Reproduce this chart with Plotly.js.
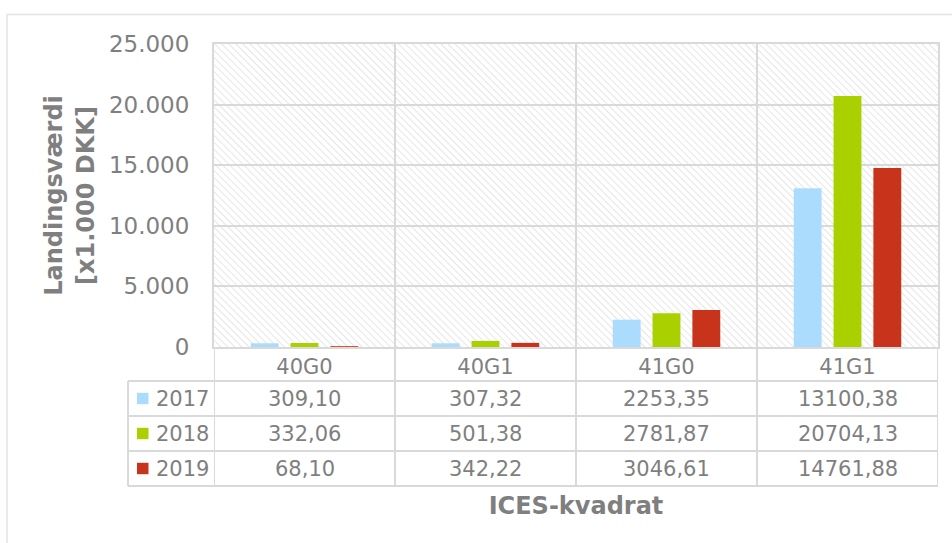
<!DOCTYPE html>
<html>
<head>
<meta charset="utf-8">
<script src="https://cdn.plot.ly/plotly-3.0.1.min.js"></script>
<style>
  html, body { margin: 0; padding: 0; background: #fff; }
  #plot { width: 952px; height: 543px; }
</style>
</head>
<body>
<div id="plot"></div>
<script>
// data
const categories = ['40G0', '40G1', '41G0', '41G1'];
const years = ['2017', '2018', '2019'];
const v2017 = [309.10, 307.32, 2253.35, 13100.38];
const v2018 = [332.06, 501.38, 2781.87, 20704.13];
const v2019 = [68.10, 342.22, 3046.61, 14761.88];
const yTicks = [0, 5000, 10000, 15000, 20000, 25000];

const series = [v2017, v2018, v2019];
const colors = ['#acdcfd', '#aad000', '#c8341b'];

const grey = '#7f7f7f';
const lineCol = '#d9d9d9';
const font = 'DejaVu Sans, Verdana, sans-serif';

// plot area in px: x 214..938, y 44..347
const L = 214, R = 14, T = 44, B = 196;
const pw = 952 - L - R, ph = 543 - T - B;
const px = v => (v - L) / pw;
const py = v => (T + ph - v) / ph;

const traces = series.map((vals, i) => ({
    x: categories,
    y: vals,
    name: years[i],
    type: 'bar',
    marker: { color: colors[i] },
    hoverinfo: 'x+y+name',
    showlegend: false
}));

// data table under the axis
const rowEdges = [347, 381, 416, 451, 486];
const shapes = [];
const annotations = [];

// horizontal lines of the table
for (let r = 1; r < rowEdges.length; r++) {
    shapes.push({ type: 'line', xref: 'paper', yref: 'paper',
        x0: px(128), x1: 1, y0: py(rowEdges[r]), y1: py(rowEdges[r]),
        line: { color: lineCol, width: 2 } });
}
// vertical lines of the table
shapes.push({ type: 'line', xref: 'paper', yref: 'paper',
    x0: px(128), x1: px(128), y0: py(381), y1: py(486), line: { color: lineCol, width: 2 } });
[-0.5, 0.5, 1.5, 2.5, 3.5].forEach(b => {
    shapes.push({ type: 'line', xref: 'x', yref: 'paper',
        x0: b, x1: b, y0: 0, y1: py(486), line: { color: lineCol, width: 2 } });
});

// outer chart border
shapes.push({ type: 'rect', xref: 'paper', yref: 'paper',
    x0: px(7), x1: px(960), y0: py(14.5), y1: py(560),
    line: { color: '#e3e3e3', width: 1.5 }, layer: 'below' });

series.forEach((vals, i) => {
    const yc = py((rowEdges[i + 1] + rowEdges[i + 2]) / 2);
    // legend key
    shapes.push({ type: 'rect', xref: 'paper', yref: 'paper',
        x0: px(137), x1: px(148.5), y0: yc - 5.7 / ph, y1: yc + 5.7 / ph,
        fillcolor: colors[i], line: { width: 0 } });
    annotations.push({ xref: 'paper', yref: 'paper', x: px(154), y: yc,
        xanchor: 'left', yanchor: 'middle', showarrow: false,
        text: years[i], font: { family: font, size: 21, color: grey } });
    vals.forEach((v, j) => {
        annotations.push({ xref: 'x', yref: 'paper', x: categories[j], y: yc,
            xanchor: 'center', yanchor: 'middle', showarrow: false,
            text: v.toFixed(2).replace('.', ','),
            font: { family: font, size: 21, color: grey } });
    });
});

// hatched plot background
const hatch = "<svg xmlns='http://www.w3.org/2000/svg' width='" + pw + "' height='" + ph + "'>" +
    "<defs><pattern id='p' width='5' height='5' patternUnits='userSpaceOnUse' patternTransform='rotate(-45)'>" +
    "<line x1='0' y1='0' x2='0' y2='5' stroke='#e4e4e4' stroke-width='1.8'/></pattern></defs>" +
    "<rect width='100%' height='100%' fill='url(#p)'/></svg>";

const layout = {
    width: 952,
    height: 543,
    margin: { l: L, r: R, t: T, b: B },
    paper_bgcolor: '#fff',
    plot_bgcolor: 'rgba(0,0,0,0)',
    separators: ',.',
    font: { family: font, color: grey },
    barmode: 'group',
    bargap: 0.34,
    bargroupgap: 0.3,
    xaxis: {
        type: 'category',
        range: [-0.5, 3.5],
        tickson: 'boundaries',
        showgrid: true,
        gridcolor: lineCol,
        gridwidth: 2,
        showline: true,
        linecolor: lineCol,
        linewidth: 2,
        mirror: true,
        ticks: '',
        ticklabelstandoff: 0,
        tickfont: { family: font, size: 21, color: grey },
        title: { text: 'ICES-kvadrat', standoff: 119,
            font: { family: font, size: 24, color: grey, weight: 'bold' } }
    },
    yaxis: {
        range: [0, 25000],
        tickvals: yTicks,
        tickformat: ',d',
        showgrid: true,
        gridcolor: lineCol,
        gridwidth: 2,
        showline: true,
        linecolor: lineCol,
        linewidth: 2,
        mirror: true,
        zeroline: false,
        ticks: '',
        ticklabelstandoff: 18,
        tickfont: { family: font, size: 23, color: grey },
        title: { text: 'Landingsværdi<br>[x1.000 DKK]', standoff: 8,
            font: { family: font, size: 24, color: grey, weight: 'bold' } }
    },
    images: [{
        source: 'data:image/svg+xml;charset=utf-8,' + encodeURIComponent(hatch),
        xref: 'paper', yref: 'paper', x: 0, y: 1, sizex: 1, sizey: 1,
        xanchor: 'left', yanchor: 'top', sizing: 'stretch', layer: 'below'
    }],
    shapes: shapes,
    annotations: annotations
};

Plotly.newPlot('plot', traces, layout, { displayModeBar: false, staticPlot: true });
</script>
</body>
</html>
